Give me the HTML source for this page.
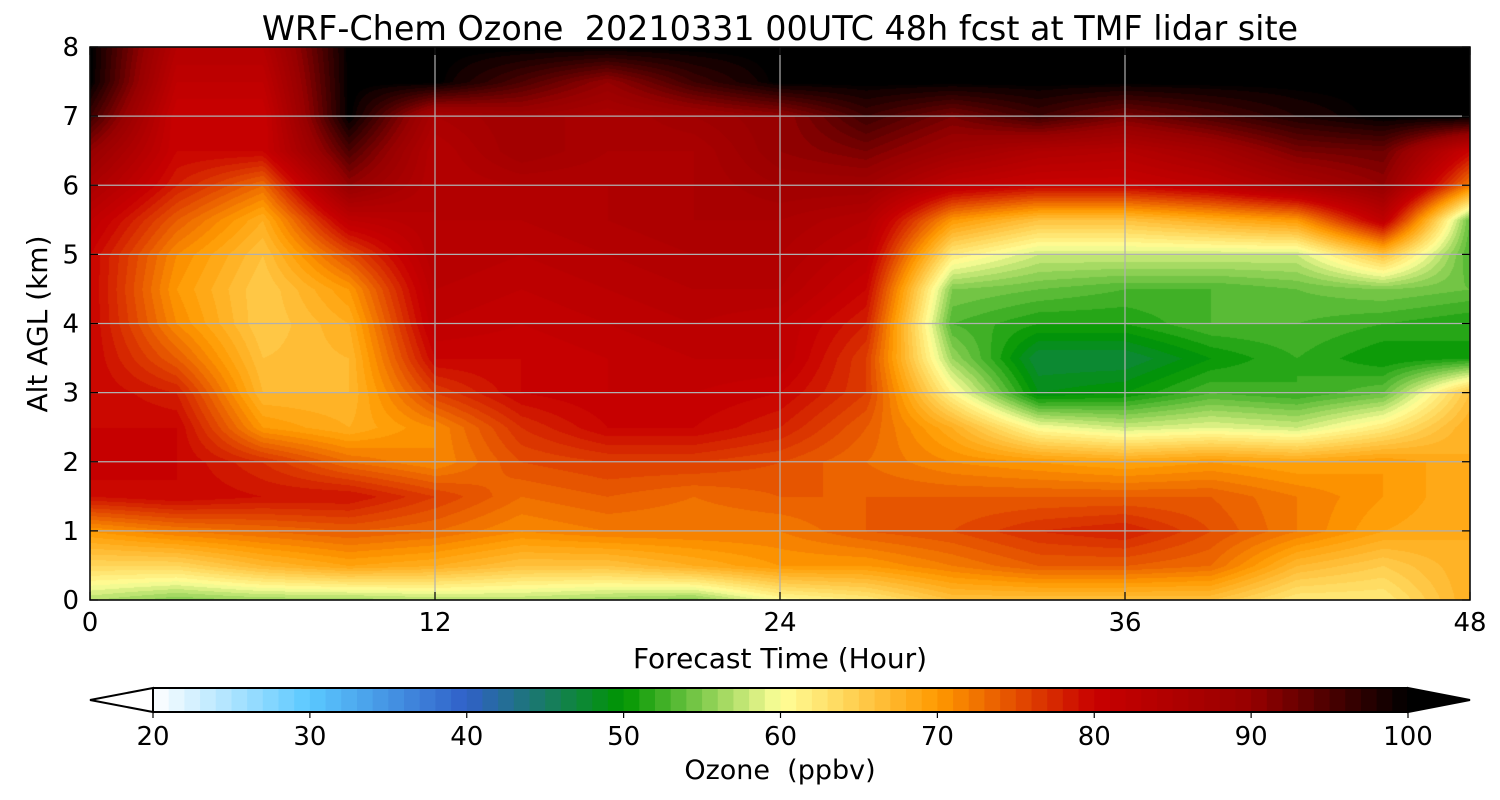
<!DOCTYPE html>
<html><head><meta charset="utf-8"><style>
body{margin:0;background:#fff;}
#wrap{position:relative;width:1500px;height:800px;font-family:"Liberation Sans","DejaVu Sans",sans-serif;}
canvas{position:absolute;left:90px;top:47px;}
svg{position:absolute;left:0;top:0;}
text{font-family:"DejaVu Sans","Liberation Sans",sans-serif;fill:#000;white-space:pre;}
</style></head><body>
<div id="wrap">
<canvas id="cv" width="1380" height="553"></canvas>
<svg id="sv" width="1500" height="800"></svg>
</div>
<script>
const times=[0,3,6,9,12,15,18,21,24,27,30,33,36,39,42,45,48];
const alts=[8,7.5,7,6.5,6,5.5,5,4.5,4,3.5,3,2.5,2,1.5,1,0.5,0];
const ozone=[
[100,84,84,100,100,100,100,100,100,100,100,100,100,100,100,100,100],
[100,82,82,100,100,95,90,96,100,100,100,100,100,100,100,100,100],
[96,80,80,100,86,88,86,88,90,96,92,96,92,95,98,100,100],
[90,80,80,95,84,88,86,86,90,92,88,85,84,87,92,93,80],
[86,78,73,90,84,85,85,86,88,88,82,80,80,82,86,90,72],
[82,74,68,82,84,84,85,86,86,84,70,66,66,68,70,82,54],
[80,71,66,75,84,83,84,85,85,82,62,58,58,58,58,66,53],
[80,70,65,70,83,82,83,84,84,80,55,54,53,53,54,55,54],
[80,71,65,68,82,81,82,83,82,78,53,51,51,53,53,52,51],
[80,74,66,67,80,80,81,82,82,76,56,47,47,50,52,50,51],
[80,78,67,67,76,80,81,81,80,76,61,49,50,53,52,54,66],
[80,80,70,68,71,77,80,80,78,74,68,60,58,59,58,62,68],
[81,80,77,73,71,75,76,76,75,73,71,70,69,70,69,70,68],
[79,80,79,79,76,73,74,73,74,74,74,74,74,74,72,70,68],
[70,72,73,74,73,71,72,72,72,74,75,77,78,75,72,69,68],
[64,64,67,69,68,66,66,68,70,70,72,74,74,73,67,65,68],
[57,55,56,56,57,57,56,55,60,62,66,66,66,66,62,62,68]];
const xTicks=[0,12,24,36,48];
const yTicks=[0,1,2,3,4,5,6,7,8];
const cbTicks=[20,30,40,50,60,70,80,90,100];
const cStops=[[20,[255,255,255]],[30,[90,200,255]],[40,[48,96,200]],[50,[0,150,0]],[60,[255,255,153]],[70,[255,154,0]],[80,[200,0,0]],[90,[150,0,0]],[100,[0,0,0]]];
function color(v){
  if(v>=99.5)return[0,0,0]; if(v<20)return[255,255,255];
  const q=Math.floor(v)+0.5;
  for(let i=0;i<cStops.length-1;i++){const a=cStops[i],b=cStops[i+1];
    if(q>=a[0]&&q<=b[0]){const f=(q-a[0])/(b[0]-a[0]);return a[1].map((c,k)=>Math.round(c+(b[1][k]-c)*f));}}
  return[0,0,0];
}
const PX0=90,PX1=1470,PY0=600,PY1=47;
const xs=t=>PX0+(t-0)/48*(PX1-PX0);
const ys=a=>PY0-(a/8)*(PY0-PY1);
function val(t,a){
  let i=Math.min(times.length-2,Math.max(0,Math.floor(t/3)));
  let fx=Math.min(1,Math.max(0,(t-times[i])/(times[i+1]-times[i])));
  let r=(8-a)/0.5; let j=Math.min(alts.length-2,Math.max(0,Math.floor(r))); let fy=Math.min(1,Math.max(0,r-j));
  const v00=ozone[j][i],v01=ozone[j][i+1],v10=ozone[j+1][i],v11=ozone[j+1][i+1];
  return (v00*(1-fx)+v01*fx)*(1-fy)+(v10*(1-fx)+v11*fx)*fy;
}
const cv=document.getElementById('cv'),ctx=cv.getContext('2d');
const W=cv.width,H=cv.height,img=ctx.createImageData(W,H);
for(let y=0;y<H;y++){const a=(H-y)/H*8;for(let x=0;x<W;x++){const t=x/(W-1)*48;const c=color(val(t,a));const p=(y*W+x)*4;img.data[p]=c[0];img.data[p+1]=c[1];img.data[p+2]=c[2];img.data[p+3]=255;}}
ctx.putImageData(img,0,0);
const NS='http://www.w3.org/2000/svg',sv=document.getElementById('sv');
function mk(tag,at,txt){const e=document.createElementNS(NS,tag);for(const k in at)e.setAttribute(k,at[k]);if(txt!==undefined)e.textContent=txt;sv.appendChild(e);return e;}
xTicks.forEach(t=>{const x=xs(t);
  const g=mk('line',{x1:x,x2:x,y1:PY1,y2:PY0,stroke:'#b0b0b0','stroke-width':1.2});
  
  
  mk('line',{x1:x,x2:x,y1:PY0,y2:PY0-8,stroke:'#000','stroke-width':1.2});
  mk('line',{x1:x,x2:x,y1:PY1,y2:PY1+8,stroke:'#000','stroke-width':1.2});
  const l=mk('text',{x:x,y:631,'font-size':26,'text-anchor':'middle'},String(t));
  
  
});
yTicks.forEach(a=>{const y=ys(a);
  const g=mk('line',{x1:PX0,x2:PX1,y1:y,y2:y,stroke:'#b0b0b0','stroke-width':1.2});
  
  
  mk('line',{x1:PX0,x2:PX0+8,y1:y,y2:y,stroke:'#000','stroke-width':1.2});
  mk('line',{x1:PX1,x2:PX1-8,y1:y,y2:y,stroke:'#000','stroke-width':1.2});
  const l=mk('text',{x:79,y:y+9,'font-size':26,'text-anchor':'end'},String(a));
  
  
});
const fr=mk('rect',{x:PX0,y:PY1,width:PX1-PX0,height:PY0-PY1,fill:'none',stroke:'#000','stroke-width':1.5});


const ti=mk('text',{x:780,y:40,'font-size':33.4,'text-anchor':'middle'},'WRF-Chem Ozone  20210331 00UTC 48h fcst at TMF lidar site');


const xl=mk('text',{x:780,y:668,'font-size':28,'text-anchor':'middle'},'Forecast Time (Hour)');


const yl=mk('text',{x:0,y:0,'font-size':28,'text-anchor':'middle',transform:'translate(47,324) rotate(-90)'},'Alt AGL (km)');


// colorbar
const CB0=153,CB1=1408,CBT=688,CBB=712;
const cbx=v=>CB0+(v-20)/80*(CB1-CB0);
for(let v=20;v<100;v++){const c=color(v);
  const r=mk('rect',{x:cbx(v),y:CBT,width:cbx(v+1)-cbx(v)+0.6,height:CBB-CBT,fill:`rgb(${c})`});
  
  
}
const lt=mk('polygon',{points:`${CB0},${CBT} 90,700 ${CB0},${CBB}`,fill:'#fff',stroke:'#000','stroke-width':2});


const rt=mk('polygon',{points:`${CB1},${CBT} 1470,700 ${CB1},${CBB}`,fill:'#000',stroke:'#000','stroke-width':2});


mk('line',{x1:CB0,x2:CB1,y1:CBT,y2:CBT,stroke:'#000','stroke-width':2});
mk('line',{x1:CB0,x2:CB1,y1:CBB,y2:CBB,stroke:'#000','stroke-width':2});
cbTicks.forEach(v=>{const x=cbx(v);
  mk('line',{x1:x,x2:x,y1:CBB,y2:CBB+6,stroke:'#000','stroke-width':1.2});
  const l=mk('text',{x:x,y:745,'font-size':26,'text-anchor':'middle'},String(v));
  
  
});
const cl=mk('text',{x:780,y:779,'font-size':27,'text-anchor':'middle'},'Ozone  (ppbv)');


</script>
</body></html>
